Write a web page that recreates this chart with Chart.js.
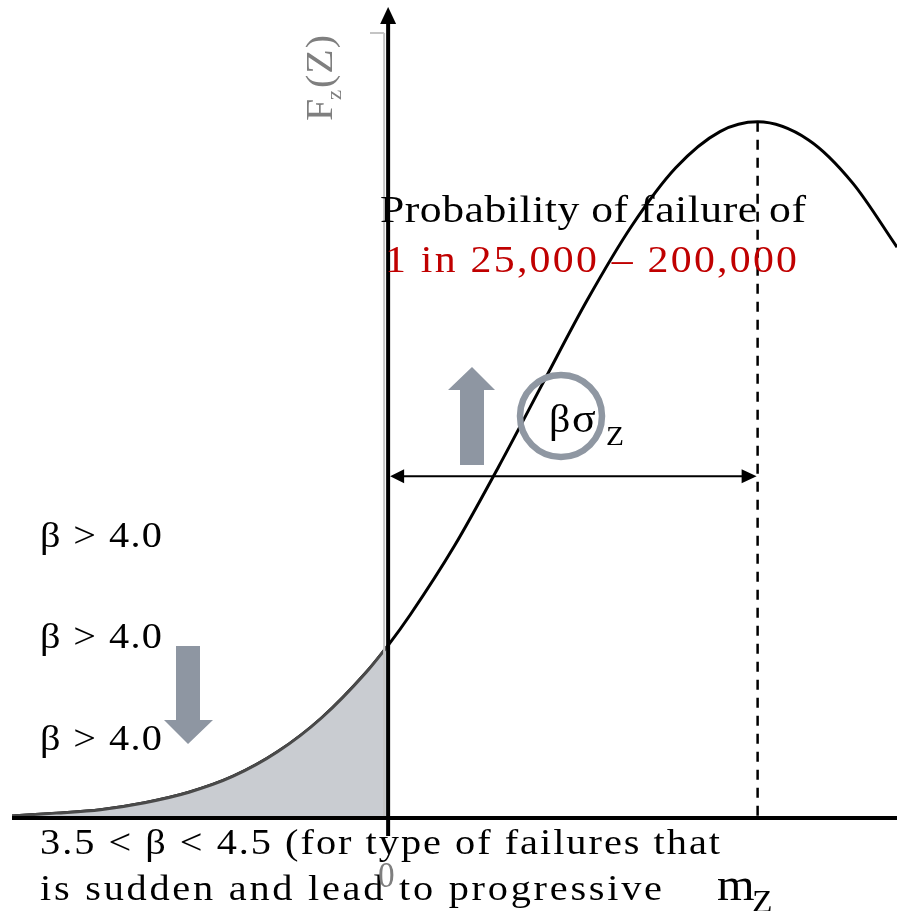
<!DOCTYPE html>
<html>
<head>
<meta charset="utf-8">
<script src="https://cdn.jsdelivr.net/npm/chart.js@4.4.1/dist/chart.umd.min.js"></script>
<style>
  html, body { margin: 0; padding: 0; background: #ffffff; }
  #wrap { width: 897px; height: 911px; position: relative; }
</style>
</head>
<body>
<div id="wrap"><canvas id="c" width="897" height="911"></canvas></div>
<script>
// ---- Data (x in units of sigma_Z, y relative to peak) ----
const zValues = [-1.7, -1.5, -1.3, -1.1, -0.9, -0.7, -0.5, -0.3, -0.1, 0, 0.1, 0.3, 0.5, 0.7, 0.9, 1.1, 1.3, 1.5, 1.67, 1.9, 2.1, 2.3];
const density = [0.003, 0.007, 0.012, 0.022, 0.037, 0.060, 0.095, 0.144, 0.209, 0.248, 0.292, 0.391, 0.505, 0.625, 0.744, 0.850, 0.934, 0.986, 1.000, 0.974, 0.912, 0.820];
const meanZ = 1.67;          // m_Z position
const betaArrowLevel = 0.491; // height of the beta*sigma arrow
const xRange = [-1.70, 2.30];
const yRange = [0, 1.165];

const curvePoints = zValues.map((z, i) => ({ x: z, y: density[i] }));
const failurePoints = curvePoints.filter(p => p.x <= 0);

const SERIF = '"Liberation Serif", "Times New Roman", serif';
const GRAY_ARROW = '#8e96a2';

// draw text with a slight horizontal stretch, then letter-spacing to reach the target width
function fitText(ctx, text, x, y, size, color, width, sx) {
  sx = sx || 1.12;
  ctx.save();
  ctx.translate(x, y);
  ctx.scale(sx, 1);
  ctx.font = size + 'px ' + SERIF;
  ctx.letterSpacing = '0px';
  let ls = 0;
  if (width) {
    const w = ctx.measureText(text).width * sx;
    ls = (width - w) / Math.max(1, text.length - 1) / sx;
  }
  ctx.letterSpacing = ls + 'px';
  ctx.fillStyle = color;
  ctx.textBaseline = 'alphabetic';
  ctx.textAlign = 'left';
  ctx.fillText(text, 0, 0);
  ctx.letterSpacing = '0px';
  ctx.restore();
}

function poly(ctx, pts, color) {
  ctx.beginPath();
  ctx.moveTo(pts[0][0], pts[0][1]);
  for (let i = 1; i < pts.length; i++) ctx.lineTo(pts[i][0], pts[i][1]);
  ctx.closePath();
  ctx.fillStyle = color;
  ctx.fill();
}

const decor = {
  id: 'decor',
  afterDatasetsDraw(chart) {
    const ctx = chart.ctx;
    const xs = chart.scales.x, ys = chart.scales.y;
    const ca = chart.chartArea;
    const x0 = xs.getPixelForValue(0);
    const y0 = ys.getPixelForValue(0);
    const xm = xs.getPixelForValue(meanZ);
    const yPeak = ys.getPixelForValue(1);
    ctx.save();

    // gray shadow line & tick near y axis
    ctx.strokeStyle = '#c4c4c4';
    ctx.lineWidth = 2;
    ctx.beginPath();
    ctx.moveTo(x0 - 4, 33); ctx.lineTo(x0 - 4, y0);
    ctx.moveTo(370, 33); ctx.lineTo(x0 - 4, 33);
    ctx.stroke();

    // dashed mean line
    ctx.strokeStyle = '#000';
    ctx.lineWidth = 2.5;
    ctx.setLineDash([10, 8]);
    ctx.beginPath();
    ctx.moveTo(xm, yPeak); ctx.lineTo(xm, y0);
    ctx.stroke();
    ctx.setLineDash([]);

    // x axis
    ctx.lineWidth = 4;
    ctx.beginPath();
    ctx.moveTo(ca.left, y0); ctx.lineTo(ca.right, y0);
    ctx.stroke();

    // y axis with arrow
    ctx.lineWidth = 4;
    ctx.beginPath();
    ctx.moveTo(x0, 836); ctx.lineTo(x0, ca.top + 14);
    ctx.stroke();
    poly(ctx, [[x0, ca.top], [x0 - 8, ca.top + 17], [x0 + 8, ca.top + 17]], '#000');

    // beta sigma double arrow
    const ya = ys.getPixelForValue(betaArrowLevel);
    ctx.lineWidth = 2;
    ctx.beginPath();
    ctx.moveTo(x0 + 8, ya); ctx.lineTo(xm - 8, ya);
    ctx.stroke();
    poly(ctx, [[x0 + 2, ya], [x0 + 16, ya - 7], [x0 + 16, ya + 7]], '#000');
    poly(ctx, [[xm - 1, ya], [xm - 16, ya - 7], [xm - 16, ya + 7]], '#000');

    // up arrow (gray)
    poly(ctx, [[472, 367], [495, 390], [484, 390], [484, 465], [460, 465], [460, 390], [448, 390]], GRAY_ARROW);
    // down arrow (gray)
    poly(ctx, [[176, 646], [200, 646], [200, 720], [213, 720], [188, 744], [164, 720], [176, 720]], GRAY_ARROW);

    // circle
    ctx.strokeStyle = '#8f97a2';
    ctx.lineWidth = 6.5;
    ctx.beginPath();
    ctx.arc(561, 416, 41, 0, Math.PI * 2);
    ctx.stroke();

    // texts
    fitText(ctx, 'Probability of failure of', 380, 222, 38, '#000', 426, 1.15);
    fitText(ctx, '1 in 25,000 \u2013 200,000', 385, 272, 38, '#c00000', 412, 1.1);
    fitText(ctx, '\u03b2 > 4.0', 40, 547, 35, '#000', 122, 1.15);
    fitText(ctx, '\u03b2 > 4.0', 40, 648, 35, '#000', 122, 1.15);
    fitText(ctx, '\u03b2 > 4.0', 40, 750, 35, '#000', 122, 1.15);
    fitText(ctx, '3.5 < \u03b2 < 4.5 (for type of failures that', 40, 854, 36, '#000', 680, 1.12);
    fitText(ctx, 'is sudden and lead to progressive', 40, 900, 36, '#000', 622, 1.12);
    fitText(ctx, '0', 378, 887, 35, '#7f7f7f', null, 0.95);
    fitText(ctx, 'm', 717, 900, 46, '#000', null, 1.05);
    fitText(ctx, 'Z', 752, 912, 32, '#000', null, 1.05);
    fitText(ctx, '\u03b2', 549, 432, 40, '#000', null, 1.05);
    fitText(ctx, '\u03c3', 572, 432, 40, '#000', null, 1.1);
    fitText(ctx, 'Z', 606, 445, 28, '#000', null, 1.05);

    // rotated axis label F_z(Z)
    ctx.save();
    ctx.translate(332, 121);
    ctx.rotate(-Math.PI / 2);
    fitText(ctx, 'F', 0, 0, 38, '#7f7f7f', null, 1.05);
    fitText(ctx, 'z', 21, 9, 22, '#7f7f7f', null, 1.05);
    fitText(ctx, '(Z)', 33, 0, 38, '#7f7f7f', 53, 1.05);
    ctx.restore();

    ctx.restore();
  }
};

new Chart(document.getElementById('c'), {
  type: 'line',
  data: {
    datasets: [
      {
        label: 'P(failure)',
        data: failurePoints,
        borderColor: '#4a4a4a',
        borderWidth: 3,
        backgroundColor: '#c9ccd1',
        fill: 'origin',
        pointRadius: 0,
        cubicInterpolationMode: 'monotone'
      },
      {
        label: 'F_Z(Z)',
        data: curvePoints,
        borderColor: '#000000',
        borderWidth: 3,
        fill: false,
        pointRadius: 0,
        cubicInterpolationMode: 'monotone'
      }
    ]
  },
  options: {
    responsive: false,
    devicePixelRatio: 1,
    animation: false,
    layout: { padding: { left: 12, right: 0, top: 7, bottom: 93 } },
    plugins: { legend: { display: false }, tooltip: { enabled: false } },
    scales: {
      x: { type: 'linear', min: xRange[0], max: xRange[1], display: false },
      y: { type: 'linear', min: yRange[0], max: yRange[1], display: false }
    }
  },
  plugins: [decor]
});
</script>
</body>
</html>
